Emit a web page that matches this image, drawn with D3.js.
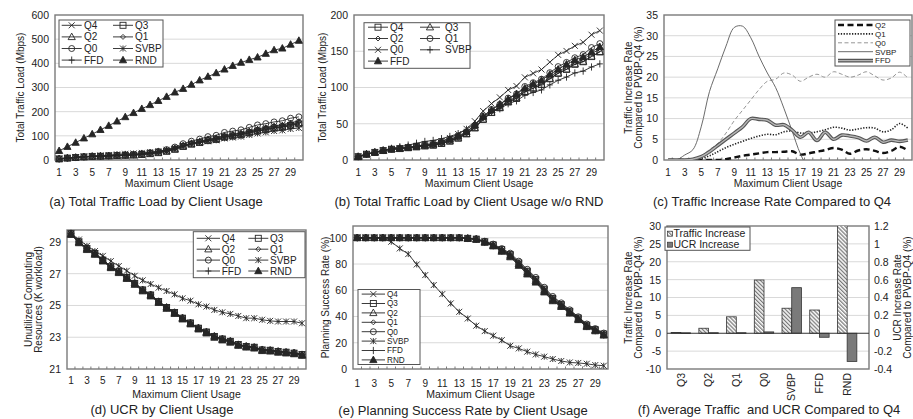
<!DOCTYPE html>
<html>
<head>
<meta charset="utf-8">
<script src="https://cdn.jsdelivr.net/npm/d3@7"></script>
<style>
  body { margin: 0; background: #fff; }
  svg text { font-family: "Liberation Sans", Arial, sans-serif; fill: #222; }
</style>
</head>
<body>
<div id="chart"></div>
<script>
// categories
const usage = [1, 2, 3, 4, 5, 6, 7, 8, 9, 10, 11, 12, 13, 14, 15, 16, 17, 18, 19, 20, 21, 22, 23, 24, 25, 26, 27, 28, 29, 30];
const usageTicks = [1, 3, 5, 7, 9, 11, 13, 15, 17, 19, 21, 23, 25, 27, 29];

// (a)/(b) total traffic load (Mbps)
const trafficQ4 = [4.6, 8, 10.5, 13, 14.9, 15.7, 16.9, 18.1, 19.4, 20.4, 22.7, 26, 30.1, 36, 44.2, 56, 65.4, 72, 80, 85, 94, 99, 104, 112, 119.5, 125, 132, 135.5, 142.6, 149];
const trafficQ3 = [4.6, 8, 10.5, 13, 14.9, 15.7, 16.9, 18.1, 19.4, 20.5, 22.8, 26.1, 30.2, 36.1, 44.3, 56.1, 65.5, 72.1, 80.2, 85.2, 94.2, 99.2, 104.2, 112.2, 119.8, 125.2, 132.3, 135.8, 142.9, 149.3];
const trafficQ2 = [4.6, 8, 10.5, 13, 14.9, 15.7, 16.9, 18.1, 19.5, 20.6, 23, 26.4, 30.7, 36.7, 45.1, 57.2, 66.3, 73.2, 81.6, 87, 96.7, 101.5, 105.6, 114.6, 122.6, 127.8, 134.2, 138.5, 147.2, 152.4];
const trafficQ1 = [4.6, 8, 10.5, 13, 15, 15.9, 17.2, 18.6, 20.1, 21.3, 23.9, 27.5, 32, 38.2, 47.2, 59.9, 69.7, 76.7, 85.4, 91.2, 101.4, 106.6, 111.5, 120.4, 128.8, 134.6, 141, 145.4, 155.1, 160.5];
const trafficQ0 = [4.6, 8, 10.5, 13, 15.1, 16.1, 17.6, 19.3, 21.2, 22.8, 26, 30.4, 35.8, 43, 53.5, 67.5, 77.8, 86.4, 96.6, 102, 114, 119.5, 124.8, 135, 145, 150.4, 157.5, 162.3, 172.8, 178.5];
const trafficSVBP = [4.6, 8, 10.6, 13.3, 16.1, 18.3, 20.6, 23.1, 25.6, 27, 29.4, 32.5, 36.4, 42.3, 49.7, 59.9, 66.4, 70.6, 77.6, 81.6, 89.3, 93.1, 96.7, 103.6, 110, 114.4, 120.1, 122.6, 128.3, 132.6];
const trafficFFD = [4.6, 8, 10.5, 13, 15, 16, 17.5, 19, 20.7, 22, 25, 28.5, 33, 39, 48, 60, 69, 77, 84, 91, 99, 105, 110, 118, 125, 132, 138, 142, 149, 156];
const trafficRND = [38, 55, 72, 90, 107, 125, 142, 160, 178, 195, 212, 228, 245, 262, 280, 295, 312, 330, 345, 360, 375, 390, 403, 415, 425, 440, 455, 462, 478, 494];

// (c) traffic increase rate vs Q4 (%)
const incrQ2 = [0, 0, 0, 0, 0, 0, 0, 0.2, 0.6, 1, 1.3, 1.6, 1.9, 1.9, 2, 2.1, 1.3, 1.6, 2, 2.4, 2.9, 2.5, 1.5, 2.3, 2.6, 2.2, 1.7, 2.2, 3.2, 2.3];
const incrQ1 = [0, 0, 0, 0.1, 0.4, 1, 2, 3, 3.8, 4.5, 5.2, 5.8, 6.2, 6.1, 6.8, 7, 6.5, 6.5, 6.8, 7.3, 7.9, 7.7, 7.2, 7.5, 7.8, 7.7, 6.8, 7.3, 8.8, 7.7];
const incrQ0 = [0, 0, 0, 0.3, 1, 2.5, 4, 6.5, 9.5, 12, 14.5, 17, 19, 19.5, 21, 20.5, 19, 20, 20.7, 20, 21.3, 20.7, 20, 20.5, 21.3, 20.3, 19.3, 19.8, 21.2, 19.8];
const incrSVBP = [0, 0, 1.2, 2.5, 8, 16.5, 22, 27.5, 32, 32.3, 29.5, 25, 21, 17.5, 12.5, 7, 1.5, -2, -3, -4, -5, -6, -7, -7.5, -8, -8.5, -9, -9.5, -10, -11];
const incrFFD = [0, 0, 0, 0.2, 0.8, 2, 3.5, 5, 6.5, 8, 10, 9.8, 9.6, 8.4, 8.5, 7.2, 5.5, 6.7, 4.7, 6.7, 5, 6, 5.8, 5.4, 4.6, 5.5, 4.3, 4.8, 4.5, 4.8];

// (d) unutilized computing resources (K workload)
const ucrQ4 = [29.52, 29.0, 28.58, 28.27, 27.85, 27.43, 27.12, 26.75, 26.39, 25.97, 25.66, 25.24, 24.87, 24.55, 24.2, 23.89, 23.57, 23.32, 23.05, 22.88, 22.74, 22.53, 22.42, 22.36, 22.2, 22.17, 22.1, 22.05, 22.0, 21.9];
const ucrQ3 = [29.52, 29.01, 28.58, 28.27, 27.86, 27.43, 27.12, 26.76, 26.39, 25.98, 25.66, 25.25, 24.87, 24.56, 24.2, 23.9, 23.57, 23.33, 23.05, 22.89, 22.74, 22.54, 22.42, 22.37, 22.2, 22.18, 22.1, 22.06, 22.0, 21.91];
const ucrQ2 = [29.52, 29.0, 28.59, 28.27, 27.85, 27.44, 27.12, 26.75, 26.4, 25.97, 25.67, 25.24, 24.88, 24.55, 24.21, 23.89, 23.58, 23.32, 23.06, 22.88, 22.75, 22.53, 22.43, 22.36, 22.21, 22.17, 22.11, 22.05, 22.01, 21.9];
const ucrQ1 = [29.53, 29.01, 28.59, 28.28, 27.86, 27.44, 27.13, 26.76, 26.4, 25.98, 25.67, 25.25, 24.88, 24.56, 24.21, 23.9, 23.58, 23.33, 23.06, 22.89, 22.75, 22.54, 22.43, 22.37, 22.21, 22.18, 22.11, 22.06, 22.01, 21.91];
const ucrQ0 = [29.53, 29.02, 28.6, 28.29, 27.87, 27.45, 27.14, 26.77, 26.41, 25.99, 25.68, 25.26, 24.89, 24.57, 24.22, 23.91, 23.59, 23.34, 23.07, 22.9, 22.76, 22.55, 22.44, 22.38, 22.22, 22.19, 22.12, 22.07, 22.02, 21.92];
const ucrSVBP = [29.5, 29.15, 28.75, 28.42, 28.12, 27.79, 27.48, 27.18, 26.87, 26.58, 26.35, 26.12, 25.91, 25.7, 25.45, 25.3, 25.07, 24.93, 24.72, 24.57, 24.47, 24.34, 24.2, 24.2, 24.1, 24.03, 23.99, 23.99, 23.99, 23.88];
const ucrFFD = [29.51, 28.99, 28.57, 28.26, 27.84, 27.42, 27.11, 26.74, 26.38, 25.96, 25.65, 25.23, 24.86, 24.54, 24.19, 23.88, 23.56, 23.31, 23.04, 22.87, 22.73, 22.52, 22.41, 22.35, 22.19, 22.16, 22.09, 22.04, 21.99, 21.89];
const ucrRND = [29.45, 28.93, 28.5, 28.2, 27.78, 27.36, 27.05, 26.68, 26.31, 25.9, 25.58, 25.17, 24.8, 24.48, 24.13, 23.82, 23.5, 23.25, 22.98, 22.81, 22.67, 22.47, 22.36, 22.3, 22.14, 22.11, 22.04, 21.99, 21.94, 21.84];

// (e) planning success rate (%)
const succQ4 = [100, 100, 100, 100, 100, 100, 100, 100, 100, 100, 100, 100, 100, 99.6, 99, 97, 94.4, 90.6, 86.8, 80.4, 74, 67.8, 60.2, 53.3, 48.7, 43.6, 38.5, 33, 29.7, 26.4];
const succQ3 = [100, 100, 100, 100, 100, 100, 100, 100, 100, 100, 100, 100, 100, 99.6, 99, 97, 94.6, 91, 87.2, 80.8, 74.5, 68.3, 60.8, 53.8, 49.1, 44, 38.9, 33.4, 30, 26.7];
const succQ2 = [100, 100, 100, 100, 100, 100, 100, 100, 100, 100, 100, 100, 100, 99.5, 98.9, 96.8, 94.2, 90.3, 86.4, 80, 73.5, 67.2, 59.7, 52.9, 48.3, 43.3, 38.2, 32.7, 29.5, 26.2];
const succQ1 = [100, 100, 100, 100, 100, 100, 100, 100, 100, 100, 100, 100, 100, 99.6, 99, 97.1, 94.8, 91.2, 87.6, 81.4, 75.2, 69, 61.5, 54.6, 49.8, 44.6, 39.4, 33.9, 30.4, 27];
const succQ0 = [100, 100, 100, 100, 100, 100, 100, 100, 100, 100, 100, 100, 100, 99.7, 99.2, 97.4, 95.2, 91.8, 88.3, 82.2, 76, 69.8, 62.3, 55.3, 50.4, 45.1, 39.8, 34.3, 30.8, 27.4];
const succSVBP = [100, 100, 100, 100, 97, 91.9, 87.6, 79.7, 71.6, 64, 57.1, 50, 43.6, 38.5, 33, 28.9, 25.4, 22, 17.7, 15.7, 13.2, 11.1, 9.4, 7.6, 6.1, 5, 4.6, 4, 3, 2.5];
const succFFD = [100, 100, 100, 100, 100, 100, 100, 100, 100, 100, 100, 100, 100, 99.5, 98.8, 96.6, 93.9, 90, 86, 79.6, 73.1, 66.8, 59.2, 52.4, 47.9, 42.9, 37.8, 32.4, 29.2, 25.9];
const succRND = [100, 100, 100, 100, 100, 100, 100, 100, 100, 100, 100, 100, 100, 99.4, 98.7, 96.4, 93.6, 89.5, 85.3, 78.8, 72.2, 66, 58.5, 51.8, 47.4, 42.4, 37.4, 32.1, 28.9, 25.6];

// (f) averages compared to Q4
const avgCats = ["Q3", "Q2", "Q1", "Q0", "SVBP", "FFD", "RND"];
const avgTraffic = [0.2, 1.4, 4.6, 14.9, 7.0, 6.5, 300];
const avgUcr = [0.005, 0.006, 0.006, 0.015, 0.51, -0.045, -0.315];

const ink = "#262626";
const frameColor = "#7a7a7a";
const gridColor = "#d9d9d9";

const svg = d3.select("#chart").append("svg").attr("width", 913).attr("height", 419);
const defs = svg.append("defs");

const hatch = defs.append("pattern")
  .attr("id", "hatch")
  .attr("patternUnits", "userSpaceOnUse")
  .attr("width", 2.8)
  .attr("height", 2.8)
  .attr("patternTransform", "rotate(-45)");
hatch.append("rect").attr("width", 2.8).attr("height", 2.8).attr("fill", "#fff");
hatch.append("line").attr("x1", 0.7).attr("x2", 0.7).attr("y1", 0).attr("y2", 2.8)
  .attr("stroke", "#555").attr("stroke-width", 1);

function marker(g, type, cx, cy) {
  const r = 3;
  let el;
  if (type === "circle") {
    el = g.append("circle").attr("cx", cx).attr("cy", cy).attr("r", r);
  } else if (type === "square") {
    el = g.append("rect").attr("x", cx - r).attr("y", cy - r).attr("width", 2 * r).attr("height", 2 * r);
  } else {
    let d;
    const xs = `M${cx - r},${cy - r}L${cx + r},${cy + r}M${cx - r},${cy + r}L${cx + r},${cy - r}`;
    if (type === "x") d = xs;
    else if (type === "star") d = xs + `M${cx},${cy - r}L${cx},${cy + r}`;
    else if (type === "plus") d = `M${cx - r},${cy}L${cx + r},${cy}M${cx},${cy - r - 0.6}L${cx},${cy + r + 0.6}`;
    else if (type === "diamond") d = `M${cx},${cy - 2.5}L${cx + 2.5},${cy}L${cx},${cy + 2.5}L${cx - 2.5},${cy}Z`;
    else d = `M${cx},${cy - r - 0.8}L${cx + r + 0.6},${cy + r * 0.9}L${cx - r - 0.6},${cy + r * 0.9}Z`;
    el = g.append("path").attr("d", d);
  }
  el.attr("fill", type === "triF" ? ink : "none").attr("stroke", ink).attr("stroke-width", 0.9);
}

function rotatedTitle(lines, xs, cy, size) {
  lines.forEach((line, i) => {
    svg.append("text")
      .attr("transform", `translate(${xs[i]},${cy}) rotate(-90)`)
      .attr("text-anchor", "middle")
      .attr("dy", "0.35em")
      .attr("font-size", size || 10)
      .text(line);
  });
}

function drawLegend(lg) {
  const g = svg.append("g");
  g.append("rect").attr("x", lg.x).attr("y", lg.y).attr("width", lg.w).attr("height", lg.h)
    .attr("fill", "#fff").attr("stroke", "#555").attr("stroke-width", 1);
  lg.items.forEach((it, i) => {
    const col = i % lg.cols.length;
    const row = Math.floor(i / lg.cols.length);
    const c = lg.cols[col];
    const yy = lg.y + lg.row0 + row * lg.rowH;
    if (it.double) {
      g.append("line").attr("x1", lg.x + c.l0).attr("x2", lg.x + c.l1).attr("y1", yy).attr("y2", yy)
        .attr("stroke", "#555").attr("stroke-width", 3.6);
      g.append("line").attr("x1", lg.x + c.l0).attr("x2", lg.x + c.l1).attr("y1", yy).attr("y2", yy)
        .attr("stroke", "#b5b5b5").attr("stroke-width", 1.4);
    } else {
      g.append("line").attr("x1", lg.x + c.l0).attr("x2", lg.x + c.l1).attr("y1", yy).attr("y2", yy)
        .attr("stroke", it.color || ink).attr("stroke-width", it.width || 0.9)
        .attr("stroke-dasharray", it.dash || null);
    }
    if (it.marker) marker(g, it.marker, lg.x + (c.l0 + c.l1) / 2, yy);
    g.append("text").attr("x", lg.x + c.t).attr("y", yy).attr("dy", "0.35em")
      .attr("font-size", lg.fontSize).text(it.name);
  });
}

function linePanel(p) {
  const x = d3.scaleBand().domain(usage).range([p.left, p.right]);
  const y = d3.scaleLinear().domain(p.yDomain).range([p.bottom, p.top]);
  const cx = (u) => x(u) + x.bandwidth() / 2;
  const g = svg.append("g");

  g.selectAll(null)
    .data(p.yTicks.filter((t) => t > p.yDomain[0] && t < p.yDomain[1]))
    .enter()
    .append("line")
    .attr("x1", p.left).attr("x2", p.right)
    .attr("y1", (d) => y(d)).attr("y2", (d) => y(d))
    .attr("stroke", gridColor);

  g.append("rect")
    .attr("x", p.left).attr("y", p.top)
    .attr("width", p.right - p.left).attr("height", p.bottom - p.top)
    .attr("fill", "none").attr("stroke", frameColor).attr("stroke-width", 1.4);

  g.selectAll(null).data(usage.slice(1)).enter().append("line")
    .attr("x1", (d) => x(d)).attr("x2", (d) => x(d))
    .attr("y1", p.bottom).attr("y2", p.bottom - 2.5)
    .attr("stroke", frameColor);

  const yAxis = g.append("g")
    .attr("transform", `translate(${p.left},0)`)
    .call(d3.axisLeft(y).tickValues(p.yTicks).tickSize(0).tickPadding(6).tickFormat((d) => String(d)))
    .attr("font-size", 10.5);
  yAxis.select(".domain").remove();

  const xAxis = g.append("g")
    .attr("transform", `translate(0,${p.bottom})`)
    .call(d3.axisBottom(x).tickValues(usageTicks).tickSize(0).tickPadding(p.xPad))
    .attr("font-size", 10);
  xAxis.select(".domain").remove();

  const clipId = "clip-" + p.id;
  defs.append("clipPath").attr("id", clipId).append("rect")
    .attr("x", p.left).attr("y", p.top)
    .attr("width", p.right - p.left).attr("height", p.bottom - p.top);

  const plot = g.append("g");
  p.series.forEach((s) => {
    const pts = usage.map((u, i) => ({ u: u, v: s.values[i] }));
    const line = d3.line().x((d) => cx(d.u)).y((d) => y(d.v));
    if (p.curve) line.curve(p.curve);
    const lg = plot.append("g").attr("clip-path", `url(#${clipId})`);
    if (s.double) {
      lg.append("path").datum(pts).attr("d", line).attr("fill", "none")
        .attr("stroke", "#555").attr("stroke-width", 3.6);
      lg.append("path").datum(pts).attr("d", line).attr("fill", "none")
        .attr("stroke", "#b5b5b5").attr("stroke-width", 1.4);
    } else {
      lg.append("path").datum(pts).attr("d", line).attr("fill", "none")
        .attr("stroke", s.color || ink).attr("stroke-width", s.width || 0.9)
        .attr("stroke-dasharray", s.dash || null);
    }
    if (s.marker) pts.forEach((d) => marker(plot, s.marker, cx(d.u), y(d.v)));
  });

  svg.append("text")
    .attr("x", (p.left + p.right) / 2).attr("y", p.xTitleY).attr("dy", "0.35em")
    .attr("text-anchor", "middle").attr("font-size", 10.5)
    .text("Maximum Client Usage");
  svg.append("text")
    .attr("x", p.captionX).attr("y", p.captionY).attr("dy", "0.35em")
    .attr("text-anchor", "middle").attr("font-size", 13)
    .text(p.caption);
  rotatedTitle(p.yTitle, p.yTitleX, (p.top + p.bottom) / 2, 10);
  drawLegend(p.legend);
}

const legendA = [
  { name: "Q4", marker: "x" }, { name: "Q3", marker: "square" },
  { name: "Q2", marker: "tri" }, { name: "Q1", marker: "diamond" },
  { name: "Q0", marker: "circle" }, { name: "SVBP", marker: "star" },
  { name: "FFD", marker: "plus" }, { name: "RND", marker: "triF" },
];

// (a)
linePanel({
  id: "a", left: 55, right: 303, top: 15, bottom: 160,
  yDomain: [0, 600], yTicks: [0, 100, 200, 300, 400, 500, 600],
  xPad: 9, xTitleY: 183.5, captionX: 156, captionY: 201,
  caption: "(a) Total Traffic Load by Client Usage",
  yTitle: ["Total Traffic Load (Mbps)"], yTitleX: [20],
  series: [
    { values: trafficQ4, marker: "x" }, { values: trafficQ3, marker: "square" },
    { values: trafficQ2, marker: "tri" }, { values: trafficQ1, marker: "diamond" },
    { values: trafficQ0, marker: "circle" }, { values: trafficSVBP, marker: "star" },
    { values: trafficFFD, marker: "plus" }, { values: trafficRND, marker: "triF" },
  ],
  legend: {
    x: 59, y: 20, w: 104, h: 47, row0: 5.3, rowH: 11.6, fontSize: 10,
    cols: [{ l0: 2.7, l1: 22.7, t: 25 }, { l0: 54, l1: 74, t: 76 }],
    items: legendA,
  },
});

// (b)
linePanel({
  id: "b", left: 354, right: 604, top: 15, bottom: 160,
  yDomain: [0, 200], yTicks: [0, 50, 100, 150, 200],
  xPad: 9, xTitleY: 183.5, captionX: 469, captionY: 201,
  caption: "(b) Total Traffic Load by Client Usage w/o RND",
  yTitle: ["Total Traffic Load (Mbps)"], yTitleX: [322],
  series: [
    { values: trafficQ4, marker: "square" }, { values: trafficQ3, marker: "tri" },
    { values: trafficQ2, marker: "diamond" }, { values: trafficQ1, marker: "circle" },
    { values: trafficQ0, marker: "x" }, { values: trafficSVBP, marker: "plus" },
    { values: trafficFFD, marker: "triF" },
  ],
  legend: {
    x: 364, y: 22.7, w: 106, h: 45.6, row0: 4.5, rowH: 11.3, fontSize: 10,
    cols: [{ l0: 4, l1: 24, t: 26 }, { l0: 56, l1: 76, t: 81 }],
    items: [
      { name: "Q4", marker: "square" }, { name: "Q3", marker: "tri" },
      { name: "Q2", marker: "diamond" }, { name: "Q1", marker: "circle" },
      { name: "Q0", marker: "x" }, { name: "SVBP", marker: "plus" },
      { name: "FFD", marker: "triF" },
    ],
  },
});

// (c)
const styleC = {
  Q2: { dash: "6,3.5", width: 2.4, color: "#111" },
  Q1: { dash: "1.3,1.5", width: 1.6, color: "#222" },
  Q0: { dash: "4,2.5", width: 0.9, color: "#8a8a8a" },
  SVBP: { width: 0.9, color: "#5a5a5a" },
  FFD: { double: true },
};
linePanel({
  id: "c", left: 664, right: 912, top: 15, bottom: 160,
  yDomain: [0, 35], yTicks: [0, 5, 10, 15, 20, 25, 30, 35],
  xPad: 9, xTitleY: 183.5, captionX: 772, captionY: 201,
  caption: "(c) Traffic Increase Rate Compared to Q4",
  yTitle: ["Traffic Increase Rate", "Compared to PVBP-Q4 (%)"], yTitleX: [628, 638],
  curve: d3.curveCatmullRom,
  series: [
    Object.assign({ values: incrQ2 }, styleC.Q2),
    Object.assign({ values: incrQ1 }, styleC.Q1),
    Object.assign({ values: incrQ0 }, styleC.Q0),
    Object.assign({ values: incrSVBP }, styleC.SVBP),
    Object.assign({ values: incrFFD }, styleC.FFD),
  ],
  legend: {
    x: 835, y: 20, w: 75, h: 46, row0: 5, rowH: 8.9, fontSize: 8,
    cols: [{ l0: 3, l1: 38, t: 40 }],
    items: ["Q2", "Q1", "Q0", "SVBP", "FFD"].map((n) => Object.assign({ name: n }, styleC[n])),
  },
});

// (d)
linePanel({
  id: "d", left: 67, right: 306, top: 230, bottom: 369,
  yDomain: [21, 29.75], yTicks: [21, 23, 25, 27, 29],
  xPad: 8, xTitleY: 394, captionX: 162, captionY: 409,
  caption: "(d) UCR by Client Usage",
  yTitle: ["Unutilized Computing", "Resources (K workload)"], yTitleX: [28, 38],
  series: [
    { values: ucrQ4, marker: "x" }, { values: ucrQ3, marker: "square" },
    { values: ucrQ2, marker: "tri" }, { values: ucrQ1, marker: "diamond" },
    { values: ucrQ0, marker: "circle" }, { values: ucrSVBP, marker: "star" },
    { values: ucrFFD, marker: "plus" }, { values: ucrRND, marker: "triF" },
  ],
  legend: {
    x: 193.3, y: 231.7, w: 111.7, h: 46, row0: 6.6, rowH: 10.9, fontSize: 10,
    cols: [{ l0: 3.4, l1: 26.7, t: 28.4 }, { l0: 55, l1: 75, t: 76.7 }],
    items: legendA,
  },
});

// (e)
linePanel({
  id: "e", left: 353, right: 608, top: 226, bottom: 369,
  yDomain: [0, 109], yTicks: [0, 20, 40, 60, 80, 100],
  xPad: 10.5, xTitleY: 394, captionX: 463, captionY: 410,
  caption: "(e) Planning Success Rate by Client Usage",
  yTitle: ["Planning Success Rate (%)"], yTitleX: [325],
  series: [
    { values: succQ4, marker: "x" }, { values: succQ3, marker: "square" },
    { values: succQ2, marker: "tri" }, { values: succQ1, marker: "diamond" },
    { values: succQ0, marker: "circle" }, { values: succSVBP, marker: "star" },
    { values: succFFD, marker: "plus" }, { values: succRND, marker: "triF" },
  ],
  legend: {
    x: 358, y: 289.5, w: 62, h: 75, row0: 4.6, rowH: 9.4, fontSize: 8.2,
    cols: [{ l0: 3.7, l1: 27, t: 29 }],
    items: legendA,
  },
});

// (f) grouped bars on two value axes
const fBox = { left: 667, right: 869, top: 226, bottom: 369 };
const xf = d3.scaleBand().domain(avgCats).range([667, 861]).paddingInner(0.3).paddingOuter(0.15);
const yl = d3.scaleLinear().domain([-10, 30]).range([fBox.bottom, fBox.top]);
const yr = d3.scaleLinear().domain([-0.4, 1.2]).range([fBox.bottom, fBox.top]);
const leftTicks = [-10, -5, 0, 5, 10, 15, 20, 25, 30];
const rightTicks = [-0.4, -0.2, 0, 0.2, 0.4, 0.6, 0.8, 1, 1.2];

const gf = svg.append("g");
gf.selectAll(null).data(leftTicks.filter((t) => t !== 0 && t > -10 && t < 30)).enter().append("line")
  .attr("x1", fBox.left).attr("x2", fBox.right)
  .attr("y1", (d) => yl(d)).attr("y2", (d) => yl(d))
  .attr("stroke", gridColor);
gf.append("rect")
  .attr("x", fBox.left).attr("y", fBox.top)
  .attr("width", fBox.right - fBox.left).attr("height", fBox.bottom - fBox.top)
  .attr("fill", "none").attr("stroke", frameColor).attr("stroke-width", 1.4);

defs.append("clipPath").attr("id", "clip-f").append("rect")
  .attr("x", fBox.left).attr("y", fBox.top)
  .attr("width", fBox.right - fBox.left).attr("height", fBox.bottom - fBox.top);

const bw = xf.bandwidth() / 2;
const bars = gf.append("g").attr("clip-path", "url(#clip-f)");
bars.selectAll(".traffic").data(avgCats).enter().append("rect")
  .attr("class", "traffic")
  .attr("x", (d) => xf(d))
  .attr("y", (d, i) => yl(Math.max(0, avgTraffic[i])))
  .attr("width", bw)
  .attr("height", (d, i) => Math.abs(yl(avgTraffic[i]) - yl(0)))
  .attr("fill", "url(#hatch)").attr("stroke", "#333").attr("stroke-width", 0.8);
bars.selectAll(".ucr").data(avgCats).enter().append("rect")
  .attr("class", "ucr")
  .attr("x", (d) => xf(d) + bw)
  .attr("y", (d, i) => yr(Math.max(0, avgUcr[i])))
  .attr("width", bw)
  .attr("height", (d, i) => Math.max(0.8, Math.abs(yr(avgUcr[i]) - yr(0))))
  .attr("fill", "#7a7a7a").attr("stroke", "#333").attr("stroke-width", 0.8);

gf.append("line")
  .attr("x1", fBox.left).attr("x2", fBox.right)
  .attr("y1", yl(0)).attr("y2", yl(0))
  .attr("stroke", "#333").attr("stroke-width", 1);

const lAxis = gf.append("g").attr("transform", `translate(${fBox.left},0)`)
  .call(d3.axisLeft(yl).tickValues(leftTicks).tickSize(0).tickPadding(6).tickFormat((d) => String(d)))
  .attr("font-size", 10.5);
lAxis.select(".domain").remove();
const rAxis = gf.append("g").attr("transform", `translate(${fBox.right},0)`)
  .call(d3.axisRight(yr).tickValues(rightTicks).tickSize(0).tickPadding(5)
    .tickFormat((d) => String(Math.round(d * 10) / 10)))
  .attr("font-size", 10.5);
rAxis.select(".domain").remove();

gf.selectAll(".catlabel").data(avgCats).enter().append("text")
  .attr("class", "catlabel")
  .attr("transform", (d) => `translate(${xf(d) + xf.bandwidth() / 2},373) rotate(-90)`)
  .attr("text-anchor", "end").attr("dy", "0.35em").attr("font-size", 10.5)
  .text((d) => d);

rotatedTitle(["Traffic Increase Rate", "Compared to PVBP-Q4 (%)"], [628, 638], (fBox.top + fBox.bottom) / 2, 10);
rotatedTitle(["UCR Increase Rate", "Compared to PVBP-Q4 (%)"], [897, 907], (fBox.top + fBox.bottom) / 2, 10);

const lgF = svg.append("g");
lgF.append("rect").attr("x", 665).attr("y", 227).attr("width", 85).attr("height", 23.3)
  .attr("fill", "#fff").attr("stroke", "#555");
[["Traffic Increase", "url(#hatch)"], ["UCR Increase", "#7a7a7a"]].forEach((it, i) => {
  const yy = 233.7 + i * 11;
  lgF.append("rect").attr("x", 667.5).attr("y", yy - 2.5).attr("width", 5).attr("height", 5)
    .attr("fill", it[1]).attr("stroke", "#333").attr("stroke-width", 0.7);
  lgF.append("text").attr("x", 673.5).attr("y", yy).attr("dy", "0.35em").attr("font-size", 10.5).text(it[0]);
});

svg.append("text")
  .attr("x", 769).attr("y", 409).attr("dy", "0.35em")
  .attr("text-anchor", "middle").attr("font-size", 13)
  .style("white-space", "pre")
  .text("(f) Average Traffic  and UCR Compared to Q4");
</script>
</body>
</html>
